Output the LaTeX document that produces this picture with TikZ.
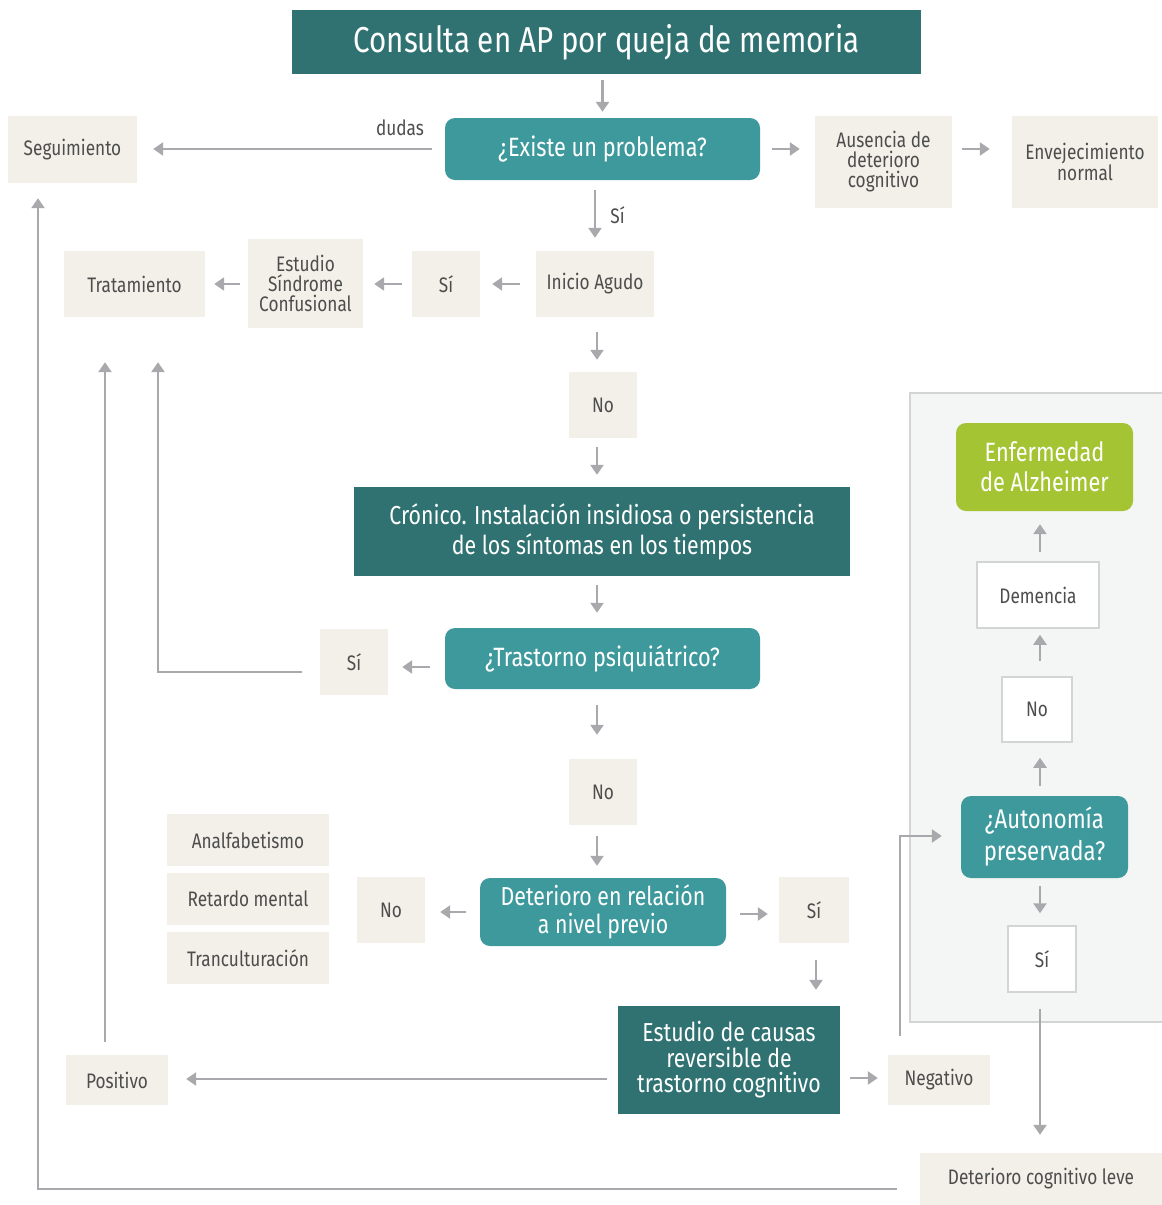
\documentclass[tikz,border=0pt]{standalone}
\usepackage{fontspec}
\setmainfont[FakeStretch=0.82]{Fira Sans}
\usetikzlibrary{arrows.meta}
\definecolor{darkteal}{HTML}{2F7271}
\definecolor{teal}{HTML}{3E999C}
\definecolor{alzgreen}{HTML}{A5C433}
\definecolor{beigec}{HTML}{F2F0E8}
\definecolor{arrc}{HTML}{A9A9AD}
\definecolor{panelc}{HTML}{F4F5F5}
\definecolor{panelb}{HTML}{D3D4D4}
\definecolor{txt}{HTML}{4D4D4D}
\newcommand{\fsz}[2]{\fontsize{#1}{#2}\selectfont}
\tikzset{
  base/.style={inner sep=0pt, align=center, anchor=center},
  beige/.style={base, fill=beigec, text=txt, font=\fsz{21}{20}},
  whitebox/.style={base, fill=white, draw=panelb, line width=1.5pt, text=txt, font=\fsz{21}{20}},
  dark/.style={base, fill=darkteal, text=white, font=\fsz{26}{30}},
  light/.style={base, fill=teal, text=white, rounded corners=10pt, font=\fsz{26.5}{30}},
  conn/.style={draw=arrc, line width=2.8pt, -{Triangle[width=13pt,length=10pt]}},
}
\begin{document}
\begin{tikzpicture}[x=1pt,y=-1pt]
\useasboundingbox (0,0) rectangle (1162,1205);
% panel
\draw[fill=panelc, draw=panelb, line width=2.5pt] (1166,393) -- (910,393) -- (910,1022) -- (1166,1022);

% nodes
\node[dark, font=\fsz{36}{36}, minimum width=629pt, minimum height=64pt] (title) at (606.5,42) {Consulta en AP por queja de memoria};
\node[light, minimum width=315pt, minimum height=62pt] (existe) at (602.5,149) {¿Existe un problema?};
\node[beige, minimum width=129pt, minimum height=67pt] (seg) at (72.5,149.5) {Seguimiento};
\node[beige, minimum width=137pt, minimum height=92pt] (aus) at (883.5,162) {Ausencia de\\deterioro\\cognitivo};
\node[beige, minimum width=146pt, minimum height=92pt] (env) at (1085,162) {Envejecimiento\\normal};
\node[text=txt, font=\fsz{21}{20}, inner sep=0pt] (dudas) at (400,128) {dudas};
\node[beige, minimum width=118pt, minimum height=66pt] (inicio) at (595,284) {Inicio Agudo};
\node[beige, minimum width=68pt, minimum height=66pt] (si1) at (446,284) {Sí};
\node[beige, minimum width=115pt, minimum height=89pt] (esc) at (305.5,283.5) {Estudio\\Síndrome\\Confusional};
\node[beige, minimum width=141pt, minimum height=66pt] (trat) at (134.5,284) {Tratamiento};
\node[beige, minimum width=68pt, minimum height=66pt] (no1) at (603,405) {No};
\node[dark, minimum width=496pt, minimum height=89pt] (cron) at (602,531.5) {Crónico. Instalación insidiosa o persistencia\\de los síntomas en los tiempos};
\node[light, minimum width=315pt, minimum height=61pt] (trast) at (602.5,658.5) {¿Trastorno psiquiátrico?};
\node[beige, minimum width=68pt, minimum height=66pt] (si2) at (354,662) {Sí};
\node[beige, minimum width=68pt, minimum height=66pt] (no2) at (603,792) {No};
\node[light, font=\fsz{26}{28}, minimum width=246pt, minimum height=68pt] (deter) at (603,912) {Deterioro en relación\\a nivel previo};
\node[beige, minimum width=68pt, minimum height=66pt] (no3) at (391,910) {No};
\node[beige, minimum width=162pt, minimum height=52pt] (anal) at (248,840) {Analfabetismo};
\node[beige, minimum width=162pt, minimum height=52pt] (ret) at (248,899) {Retardo mental};
\node[beige, minimum width=162pt, minimum height=52pt] (tranc) at (248,958) {Tranculturación};
\node[beige, minimum width=70pt, minimum height=66pt] (si3) at (814,910) {Sí};
\node[dark, font=\fsz{26}{25.5}, minimum width=222pt, minimum height=108pt] (causas) at (729,1060) {Estudio de causas\\reversible de\\trastorno cognitivo};
\node[beige, minimum width=102pt, minimum height=50pt] (pos) at (117,1080) {Positivo};
\node[beige, minimum width=102pt, minimum height=50pt] (neg) at (939,1080) {Negativo};
\node[light, fill=alzgreen, font=\fsz{26.5}{30}, minimum width=177pt, minimum height=88pt] (alz) at (1044.5,467) {Enfermedad\\de Alzheimer};
\node[whitebox, minimum width=122pt, minimum height=66pt] (dem) at (1038,595) {Demencia};
\node[whitebox, minimum width=70pt, minimum height=65pt] (no4) at (1037,709.5) {No};
\node[light, font=\fsz{27}{32}, minimum width=167pt, minimum height=82pt] (auto) at (1044.5,837) {¿Autonomía\\preservada?};
\node[whitebox, minimum width=68pt, minimum height=66pt] (si4) at (1042,959) {Sí};
\node[beige, minimum width=242pt, minimum height=52pt] (leve) at (1041,1179) {Deterioro cognitivo leve};

% connectors
\draw[conn, shorten <=6pt, shorten >=6pt] (title.south -| existe) -- (existe.north);
\draw[conn, shorten <=13pt, shorten >=16pt] (existe.west) -- (seg.east |- existe.west);
\draw[conn, shorten <=12pt, shorten >=15pt] (existe.east) -- (aus.west |- existe.east);
\draw[conn, shorten <=10pt, shorten >=22pt] (aus.east |- existe.east) -- (env.west |- existe.east);
\draw[conn, shorten <=10pt, shorten >=13pt] (existe.south -| inicio.north) -- node[right=14pt, text=txt, font=\fsz{21}{20}, inner sep=0pt] (silab) {Sí} (inicio.north);
\draw[conn, shorten <=16pt, shorten >=12pt] (inicio.west) -- (si1.east);
\draw[conn, shorten <=10pt, shorten >=11pt] (si1.west) -- (esc.east |- si1.west);
\draw[conn, shorten <=8pt, shorten >=9pt] (esc.west |- trat.east) -- (trat.east);
\draw[conn, shorten <=15pt, shorten >=12pt] (inicio.south -| 597,0) -- (no1.north -| 597,0);
\draw[conn, shorten <=9pt, shorten >=12pt] (no1.south -| 597,0) -- (cron.north -| 597,0);
\draw[conn, shorten <=9pt, shorten >=15pt] (cron.south -| 597,0) -- (trast.north -| 597,0);
\draw[conn, shorten <=15pt, shorten >=14pt] (trast.west |- 0,667) -- (si2.east |- 0,667);
\draw[conn, shorten <=16pt, shorten >=24pt] (trast.south -| 597,0) -- (no2.north -| 597,0);
\draw[conn, shorten <=11pt, shorten >=12pt] (no2.south -| 597,0) -- (deter.north -| 597,0);
\draw[conn, shorten <=14pt, shorten >=15pt] (deter.west) -- (no3.east |- deter.west);
\draw[conn, shorten <=14pt, shorten >=11pt] (deter.east |- 0,914) -- (si3.west |- 0,914);
\draw[conn, shorten <=17pt, shorten >=16pt] (si3.south -| 816,0) -- (causas.north -| 816,0);
\draw[conn, shorten <=11pt, shorten >=18pt] (causas.west |- 0,1079) -- (pos.east |- 0,1079);
\draw[conn, shorten <=10pt, shorten >=10pt] (causas.east |- 0,1078) -- (neg.west |- 0,1078);
\draw[conn, shorten <=13pt, shorten >=45pt] (pos.north -| 105,0) -- (trat.south -| 105,0);
\draw[conn, shorten >=45pt] (si2.west |- 0,672) ++(-18,0) coordinate (s2a) -- (158,672) -- (trat.south -| 158,0);
\draw[conn, shorten >=19pt] (neg.north -| 900,0) ++(0,-19) coordinate (nga) -- (900,836) -- (auto.west |- 0,836);
\draw[conn, shorten <=10pt, shorten >=15pt] (auto.north -| 1040,0) -- (no4.south -| 1040,0);
\draw[conn, shorten <=15pt, shorten >=6pt] (no4.north -| 1040,0) -- (dem.south -| 1040,0);
\draw[conn, shorten <=9pt, shorten >=13pt] (dem.north -| 1040,0) -- (alz.south -| 1040,0);
\draw[conn, shorten <=8pt, shorten >=12pt] (auto.south -| 1040,0) -- (si4.north -| 1040,0);
\draw[conn, shorten <=16pt, shorten >=18pt] (si4.south -| 1040,0) -- (leve.north -| 1040,0);
\draw[conn, shorten >=15pt] (leve.west |- 0,1189) ++(-23,0) coordinate (lva) -- (38,1189) -- (seg.south -| 38,0);
\end{tikzpicture}
\end{document}
